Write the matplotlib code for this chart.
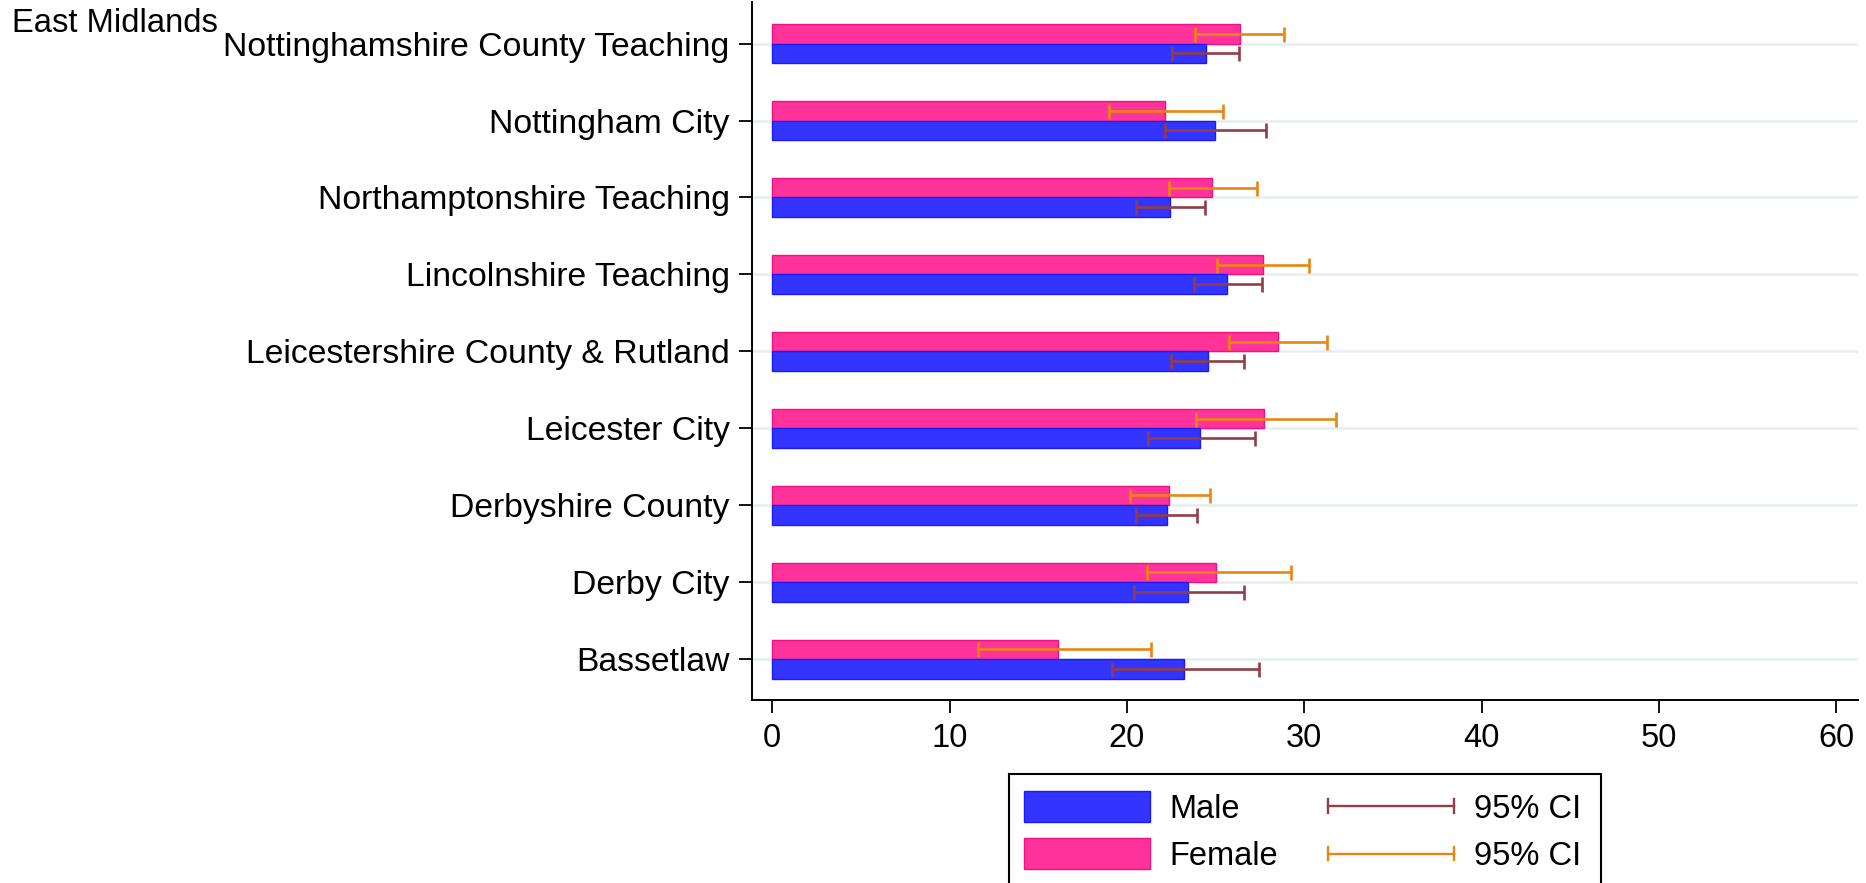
import matplotlib
matplotlib.use("Agg")
import matplotlib.pyplot as plt
import numpy as np
from matplotlib.patches import Patch, Rectangle
from matplotlib.lines import Line2D
from matplotlib.legend_handler import HandlerBase

plt.rcParams['font.family'] = ['Liberation Sans', 'DejaVu Sans']

region = "East Midlands"
categories = ["Bassetlaw", "Derby City", "Derbyshire County", "Leicester City",
              "Leicestershire County & Rutland", "Lincolnshire Teaching",
              "Northamptonshire Teaching", "Nottingham City",
              "Nottinghamshire County Teaching"]
male = [23.20, 23.43, 22.25, 24.10, 24.56, 25.64, 22.44, 24.97, 24.45]
male_lo = [19.16, 20.39, 20.54, 21.19, 22.51, 23.78, 20.54, 22.12, 22.57]
male_hi = [27.47, 26.61, 23.93, 27.21, 26.63, 27.60, 24.43, 27.86, 26.31]
female = [16.13, 25.05, 22.38, 27.75, 28.51, 27.67, 24.79, 22.16, 26.35]
female_lo = [11.62, 21.12, 20.15, 23.91, 25.77, 25.10, 22.40, 18.98, 23.82]
female_hi = [21.34, 29.24, 24.69, 31.79, 31.27, 30.26, 27.32, 25.44, 28.86]
xticks = [0, 10, 20, 30, 40, 50, 60]

C_MALE = "#3434ff"
C_MALE_EDGE = "#1a1aff"
C_FEM = "#ff3399"
C_FEM_EDGE = "#f01080"
C_MCI = "#923d47"
C_FCI = "#e98511"

W, H, DPI = 1866, 883, 100
fig = plt.figure(figsize=(W / DPI, H / DPI), dpi=DPI)
ax = fig.add_axes([751.7 / W, 1 - 700 / H, (1858 - 751.7) / W, (700 - 2) / H])

y = np.arange(len(categories))
h = 0.255
male = np.array(male); female = np.array(female)

ax.barh(y + h / 2, female, height=h, color=C_FEM, edgecolor=C_FEM_EDGE, linewidth=1.0, zorder=2)
ax.barh(y - h / 2, male, height=h, color=C_MALE, edgecolor=C_MALE_EDGE, linewidth=1.0, zorder=2)

LW = 1.9
CAP = 5.4
ax.errorbar(female, y + h / 2, xerr=[female - np.array(female_lo), np.array(female_hi) - female],
            fmt='none', ecolor=C_FCI, elinewidth=LW, capsize=CAP, capthick=LW, zorder=3)
ax.errorbar(male, y - h / 2, xerr=[male - np.array(male_lo), np.array(male_hi) - male],
            fmt='none', ecolor=C_MCI, elinewidth=LW, capsize=CAP, capthick=LW, zorder=3)

ax.set_xlim(-1.16, 61.23)
ax.set_ylim(-0.53, 8.54)
ax.set_yticks(y)
ax.set_yticklabels(categories, fontsize=24.3)
ax.set_xticks(xticks)
ax.set_xticklabels([str(t) for t in xticks], fontsize=23.5)
ax.tick_params(axis='y', length=9.4, width=1.3, pad=6.5, color='black')
ax.tick_params(axis='x', length=9.4, width=1.3, pad=7, color='black')

ax.set_axisbelow(True)
ax.grid(axis='y', color='#e6eef0', linewidth=1.8)
ax.grid(axis='x', visible=False)
for s in ['top', 'right']:
    ax.spines[s].set_visible(False)
for s in ['left', 'bottom']:
    ax.spines[s].set_linewidth(1.4)
    ax.spines[s].set_color('black')

fig.text(12 / W, 1 - 23 / H, region, fontsize=23.6, ha='left', va='center')


class HandlerCI(HandlerBase):
    def create_artists(self, legend, orig_handle, xdescent, ydescent,
                       width, height, fontsize, trans):
        yc = height / 2 - ydescent
        x0 = -xdescent
        x1 = -xdescent + width
        c = orig_handle.get_color()
        lw = orig_handle.get_linewidth()
        hc = 5.0
        arts = [Line2D([x0, x1], [yc, yc], color=c, lw=lw),
                Line2D([x0, x0], [yc - hc, yc + hc], color=c, lw=lw),
                Line2D([x1, x1], [yc - hc, yc + hc], color=c, lw=lw)]
        for a in arts:
            a.set_transform(trans)
        return arts


# legend frame
fig.patches.append(Rectangle((1009 / W, -0.02), (1601 - 1009) / W, (883 - 774) / H + 0.02,
                             transform=fig.transFigure, facecolor='white',
                             edgecolor='black', linewidth=1.5, zorder=4))

hm = Patch(facecolor=C_MALE, edgecolor=C_MALE_EDGE, linewidth=1.0)
hf = Patch(facecolor=C_FEM, edgecolor=C_FEM_EDGE, linewidth=1.0)
cm = Line2D([], [], color=C_MCI, lw=1.7)
cf = Line2D([], [], color=C_FCI, lw=1.7)
leg = fig.legend([hm, hf, cm, cf], ["Male", "Female", "95% CI", "95% CI"],
                 ncol=2, loc='upper left', bbox_to_anchor=(1009 / W, 1 - 776.5 / H),
                 bbox_transform=fig.transFigure, borderaxespad=0,
                 fontsize=23.5, handlelength=3.86, handleheight=1.06,
                 handletextpad=0.6, columnspacing=1.55, borderpad=0.45,
                 labelspacing=0.42, frameon=False,
                 handler_map={Line2D: HandlerCI()})
leg.set_zorder(5)

fig.savefig("out.png", dpi=DPI)
